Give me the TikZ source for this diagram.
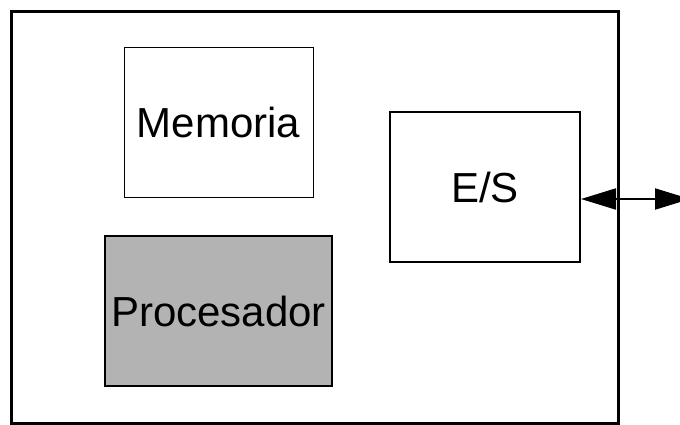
\documentclass[tikz,border=0pt]{standalone}
\usepackage{fontspec}
\setmainfont{Liberation Sans}
\usetikzlibrary{arrows.meta}
\begin{document}
\begin{tikzpicture}[x=1pt,y=-1pt,
  unit/.style={draw=black,fill=white,inner sep=0pt,
    font=\fontsize{42}{50}\selectfont},
  bigtip/.tip={Triangle[length=35pt,width=21pt]}]
\useasboundingbox (0,0) rectangle (680,424);
% enclosing system box
\draw[line width=3pt] (11,11) rectangle (618,423);
% units inside
\node[unit,line width=1pt,minimum width=189pt,minimum height=150pt]
  (mem) at (218.5,122) {Memoria};
\node[unit,line width=1.5pt,fill={rgb,255:red,179;green,179;blue,179},
  minimum width=227pt,minimum height=150pt]
  (proc) at (218.5,311) {Procesador};
\node[unit,line width=2pt,minimum width=190pt,minimum height=150pt]
  (es) at (485,187) {E/S};
% external link of the I/O unit
\coordinate (ext) at (690,199);
\draw[line width=2pt,bigtip-bigtip] (es.east |- ext) -- (ext);
\end{tikzpicture}
\end{document}
